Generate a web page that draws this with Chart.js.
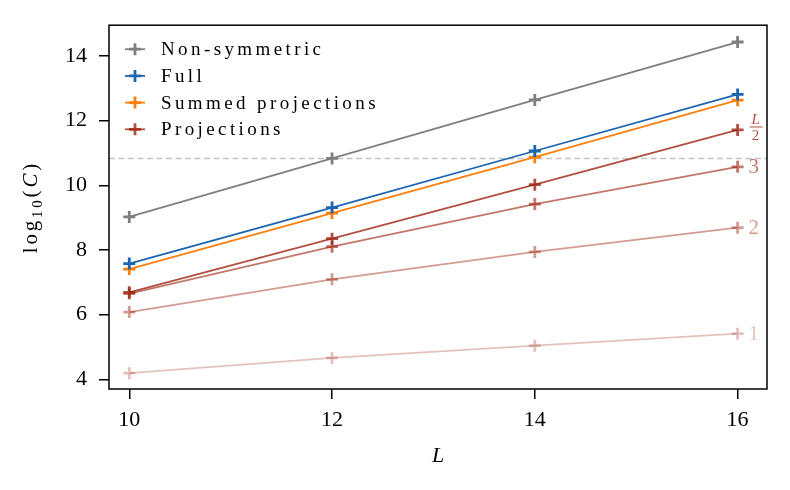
<!DOCTYPE html>
<html>
<head>
<meta charset="utf-8">
<script src="https://cdn.jsdelivr.net/npm/chart.js@4/dist/chart.umd.min.js"></script>
<style>
  body { margin: 0; background: #fff; }
  #c { display: block; }
</style>
</head>
<body>
<canvas id="c" width="790" height="490"></canvas>
<script>
// Data
var sizes = [10, 12, 14, 16];
var nonSymmetric = [9.02, 10.83, 12.64, 14.43];
var full = [7.58, 9.31, 11.06, 12.81];
var summedProj = [7.41, 9.14, 10.87, 12.63];
var projHalf = [6.69, 8.35, 10.02, 11.71];
var proj3 = [6.65, 8.10, 9.42, 10.57];
var proj2 = [6.08, 7.09, 7.94, 8.69];
var proj1 = [4.19, 4.66, 5.04, 5.41];
var cutoff = 10.83;

var xTicks = [10, 12, 14, 16];
var yTicks = [4, 6, 8, 10, 12, 14];
var xRange = [9.80, 16.29];
var yRange = [3.70, 14.95];

var legendNames = ['Non-symmetric', 'Full', 'Summed projections', 'Projections'];
var projLabels = ['L/2', '3', '2', '1'];

var FONT = "'Liberation Serif', 'DejaVu Serif', serif";
var projBase = '158, 36, 16';

function pts(values) {
    return values.map(function (v, i) { return { x: sizes[i], y: v }; });
}

function series(values, color, name) {
    return {
        label: name,
        data: pts(values),
        borderColor: color,
        backgroundColor: color,
        borderWidth: 1.8,
        pointStyle: 'cross',
        pointRadius: 6,
        pointBorderWidth: 2.8,
        pointBorderColor: color,
        fill: false,
        tension: 0,
        order: 1
    };
}

var datasets = [
    series(nonSymmetric, '#7f7f7f', legendNames[0]),
    series(full, '#1c65b0', legendNames[1]),
    series(summedProj, '#ff7f0e', legendNames[2]),
    series(projHalf, 'rgba(' + projBase + ', 0.8)', 'proj L/2'),
    series(proj3, 'rgba(' + projBase + ', 0.62)', 'proj 3'),
    series(proj2, 'rgba(' + projBase + ', 0.45)', 'proj 2'),
    series(proj1, 'rgba(' + projBase + ', 0.28)', 'proj 1'),
    {
        label: 'cutoff',
        data: [{ x: xRange[0], y: cutoff }, { x: xRange[1], y: cutoff }],
        borderColor: '#c4c4c4',
        borderWidth: 1.5,
        borderDash: [6, 3.5],
        pointRadius: 0,
        order: 10
    }
];

function drawCross(ctx, x, y, r, color) {
    ctx.save();
    ctx.strokeStyle = color;
    ctx.lineWidth = 2.8;
    ctx.beginPath();
    ctx.moveTo(x - r, y); ctx.lineTo(x + r, y);
    ctx.moveTo(x, y - r); ctx.lineTo(x, y + r);
    ctx.stroke();
    ctx.restore();
}

// frame, legend, axis titles and curve labels
var decorations = {
    id: 'decorations',
    afterDatasetsDraw: function (chart) {
        var ctx = chart.ctx;
        var area = chart.chartArea;

        // labels next to the projection curves
        for (var k = 0; k < 4; k++) {
            var meta = chart.getDatasetMeta(3 + k);
            var last = meta.data[meta.data.length - 1];
            var col = chart.data.datasets[3 + k].borderColor;
            var lx = last.x + 11;
            ctx.save();
            ctx.fillStyle = col;
            if (projLabels[k] === 'L/2') {
                ctx.textAlign = 'center';
                ctx.textBaseline = 'alphabetic';
                ctx.font = 'italic 15px ' + FONT;
                ctx.fillText('L', lx + 7, last.y - 6);
                ctx.fillRect(lx + 1, last.y - 3.5, 13, 1);
                ctx.font = '15px ' + FONT;
                ctx.fillText('2', lx + 7, last.y + 10);
            } else {
                ctx.textAlign = 'left';
                ctx.textBaseline = 'middle';
                ctx.font = '21px ' + FONT;
                ctx.fillText(projLabels[k], lx, last.y + 1);
            }
            ctx.restore();
        }

        // spines
        ctx.save();
        ctx.strokeStyle = '#000';
        ctx.lineWidth = 1.5;
        ctx.strokeRect(area.left, area.top, area.right - area.left, area.bottom - area.top);
        ctx.restore();

        // legend inside the axes
        ctx.save();
        ctx.font = '19px ' + FONT;
        ctx.letterSpacing = '3.4px';
        ctx.textBaseline = 'middle';
        ctx.fillStyle = '#000';
        for (var i = 0; i < 4; i++) {
            var y = area.top + 24 + i * 26.7;
            var c = chart.data.datasets[i].borderColor;
            ctx.strokeStyle = c;
            ctx.lineWidth = 1.8;
            ctx.beginPath();
            ctx.moveTo(area.left + 16, y);
            ctx.lineTo(area.left + 36, y);
            ctx.stroke();
            drawCross(ctx, area.left + 26, y, 6, c);
            ctx.fillText(legendNames[i], area.left + 52, y + 1);
        }
        ctx.restore();

        // y title: log10(C)
        ctx.save();
        ctx.translate(37, (area.top + area.bottom) / 2);
        ctx.rotate(-Math.PI / 2);
        ctx.fillStyle = '#000';
        ctx.textBaseline = 'alphabetic';
        ctx.letterSpacing = '2.8px';
        var parts = [
            { t: 'log', f: '21px ' + FONT, dy: 0 },
            { t: '10', f: '15px ' + FONT, dy: 5 },
            { t: '(', f: '21px ' + FONT, dy: 0 },
            { t: 'C', f: 'italic 21px ' + FONT, dy: 0 },
            { t: ')', f: '21px ' + FONT, dy: 0 }
        ];
        var total = 0;
        parts.forEach(function (p) { ctx.font = p.f; p.w = ctx.measureText(p.t).width; total += p.w; });
        var px = -total / 2;
        parts.forEach(function (p) { ctx.font = p.f; ctx.fillText(p.t, px, p.dy); px += p.w; });
        ctx.restore();

        // x title: L
        ctx.save();
        ctx.fillStyle = '#000';
        ctx.font = 'italic 22px ' + FONT;
        ctx.textAlign = 'center';
        ctx.textBaseline = 'middle';
        ctx.fillText('L', (area.left + area.right) / 2, 456);
        ctx.restore();
    }
};

var options = {
    responsive: false,
    animation: false,
    devicePixelRatio: 1,
    layout: { padding: { top: 23, right: 23, left: 0, bottom: 0 } },
    plugins: {
        legend: { display: false },
        tooltip: { enabled: false }
    },
    scales: {
        x: {
            type: 'linear',
            min: xRange[0],
            max: xRange[1],
            afterBuildTicks: function (s) { s.ticks = xTicks.map(function (v) { return { value: v }; }); },
            afterFit: function (s) { s.height = 101; },
            border: { display: false },
            grid: { drawOnChartArea: false, drawTicks: true, tickLength: 10, color: '#000', lineWidth: 1.5 },
            ticks: { color: '#000', padding: 8, font: { family: FONT, size: 22 }, maxRotation: 0 }
        },
        y: {
            type: 'linear',
            min: yRange[0],
            max: yRange[1],
            afterBuildTicks: function (s) { s.ticks = yTicks.map(function (v) { return { value: v }; }); },
            afterFit: function (s) { s.width = 109; },
            border: { display: false },
            grid: { drawOnChartArea: false, drawTicks: true, tickLength: 10, color: '#000', lineWidth: 1.5 },
            ticks: { color: '#000', padding: 12, font: { family: FONT, size: 22 } }
        }
    }
};

var chart = new Chart(document.getElementById('c').getContext('2d'), {
    type: 'line',
    data: { datasets: datasets },
    options: options,
    plugins: [decorations]
});
</script>
</body>
</html>
